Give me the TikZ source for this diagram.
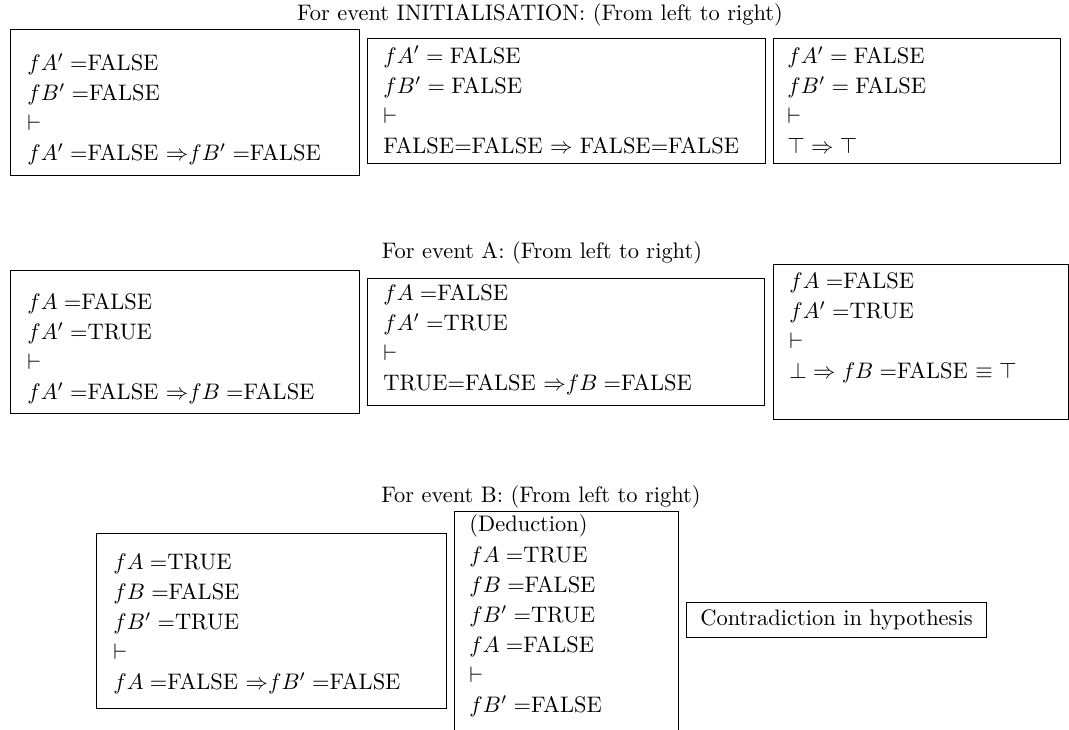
\documentclass[tikz,border=0pt]{standalone}
\usetikzlibrary{fit}
\begin{document}
\begin{tikzpicture}[x=0.4454pt, y=-0.4454pt,
  frame/.style={draw, line width=0.4pt, inner sep=0pt},
  proof/.style={align=left, inner sep=0pt, anchor=west, font=\fontsize{10}{13.4}\selectfont},
  heading/.style={inner sep=0pt},
  note/.style={draw, line width=0.4pt, inner xsep=6.3pt, inner ysep=3.33pt}]
\useasboundingbox (0,0) rectangle (1069,729);
\clip (0,0) rectangle (1069,729);

% ---- event INITIALISATION ----
\node[heading] (ti) at (540,15) {For event INITIALISATION: (From left to right)};
\node[frame, fit={(10,29) (359,175)}] (i1) {};
\node[proof] (i1t) at (27,109.5) {$fA' =$FALSE\\ $fB' =$FALSE\\ $\vdash$\\ $fA' =$FALSE $\Rightarrow$$fB' =$FALSE};
\node[frame, fit={(367,38) (765,163)}] (i2) {};
\node[proof] (i2t) at (383,100) {$fA' = \mbox{FALSE}$\\ $fB' = \mbox{FALSE}$\\ $\vdash$\\ FALSE=FALSE $\Rightarrow$ FALSE=FALSE};
\node[frame, fit={(773,38) (1060,163)}] (i3) {};
\node[proof] (i3t) at (787,100) {$fA' = \mbox{FALSE}$\\ $fB' = \mbox{FALSE}$\\ $\vdash$\\ $\top \Rightarrow \top$};

% ---- event A ----
\node[heading] (ta) at (542,253) {For event A: (From left to right)};
\node[frame, fit={(10,270) (359,413)}] (a1) {};
\node[proof] (a1t) at (27,348.5) {$fA =$FALSE\\ $fA' =$TRUE\\ $\vdash$\\ $fA' =$FALSE $\Rightarrow$$fB =$FALSE};
\node[frame, fit={(367,278) (764,405)}] (a2) {};
\node[proof] (a2t) at (383,340) {$fA =$FALSE\\ $fA' =$TRUE\\ $\vdash$\\ TRUE=FALSE $\Rightarrow$$fB =$FALSE};
\node[frame, fit={(773,264) (1068,419)}] (a3) {};
\node[proof] (a3t) at (789,327.5) {$fA =$FALSE\\ $fA' =$TRUE\\ $\vdash$\\ $\bot \Rightarrow fB =$FALSE $\equiv \top$};

% ---- event B ----
\node[heading] (tb) at (541,497) {For event B: (From left to right)};
\node[frame, fit={(96,533) (446,708)}] (b1) {};
\node[proof] (b1t) at (113,624) {$fA =$TRUE\\ $fB =$FALSE\\ $fB' =$TRUE\\ $\vdash$\\ $fA =$FALSE $\Rightarrow$$fB' =$FALSE};
\node[frame, fit={(454,511) (678,745)}] (b2) {};
\node[proof] (b2t) at (469,616) {(Deduction)\\ $fA =$TRUE\\ $fB =$FALSE\\ $fB' =$TRUE\\ $fA =$FALSE\\ $\vdash$\\ $fB' =$FALSE};
\node[note] (b3) at (836.5,620) {Contradiction in hypothesis};
\end{tikzpicture}
\end{document}
